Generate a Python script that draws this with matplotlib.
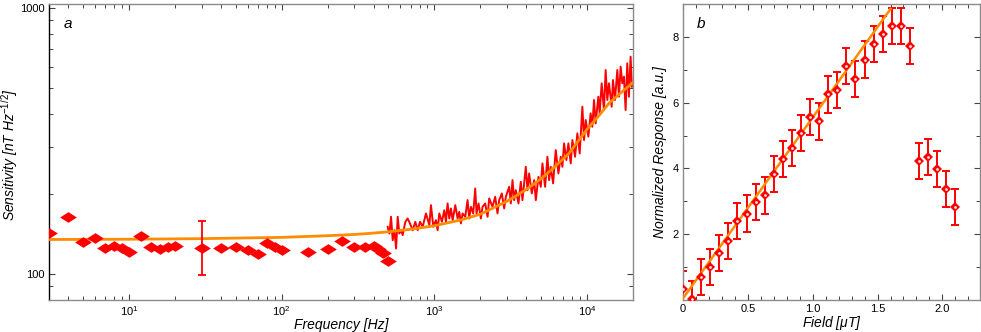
import matplotlib
matplotlib.use("Agg")
import matplotlib.pyplot as plt
from matplotlib.ticker import LogLocator, NullFormatter, FixedLocator, MultipleLocator, FixedFormatter
import numpy as np

plt.rcParams['font.family'] = ['Liberation Sans', 'DejaVu Sans']
plt.rcParams['mathtext.fontset'] = 'custom'
plt.rcParams['mathtext.rm'] = 'Liberation Sans'
plt.rcParams['mathtext.it'] = 'Liberation Sans:italic'

# ---------------- panel a data ----------------
diamond_freq = [3, 4, 5, 6, 7, 8, 9, 10, 12, 14, 16, 18, 20, 30, 40, 50, 60, 70, 80, 90,
                100, 150, 200, 250, 300, 350, 400, 425, 460, 500]
diamond_sens = [143, 164, 132, 137, 125, 128, 125, 121, 139, 127, 124, 127, 128, 125, 125,
                127, 123, 119, 131, 127, 123, 121, 124, 133, 127, 126, 128, 124, 120, 112]
err_freq = [30]
err_sens = [125]
err_low = [26]
err_high = [33]

trace_freq = [495, 508, 521, 534, 548, 562, 576, 590, 606, 621, 646, 669, 693, 722, 751, 778,
              806, 839, 882, 928, 951, 985, 1025, 1051, 1078, 1122, 1162, 1192, 1222, 1253,
              1285, 1318, 1372, 1421, 1457, 1494, 1532, 1594, 1651, 1693, 1736, 1798, 1853,
              1891, 1949, 2018, 2070, 2154, 2232, 2288, 2405, 2504, 2593, 2659, 2768, 2867,
              2940, 3091, 3170, 3251, 3333, 3417, 3558, 3684, 3778, 3972, 4074, 4178, 4349,
              4505, 4619, 4808, 4980, 5105, 5315, 5504, 5644, 5787, 5995, 6240, 6495, 6728,
              6899, 7074, 7325, 7551, 7820, 8018, 8346, 8645, 8954, 9322, 9559, 9802, 10200,
              10560, 10830, 11110, 11390, 11860, 12100, 12470, 12910, 13240, 13580, 13920,
              14500, 14790, 15240, 15790, 16190, 16600, 17020, 17450, 17890, 18340, 18810,
              19290, 19680]
trace_sens = [150.7, 142.2, 164.3, 134.2, 146.3, 124.9, 164.3, 142.2, 146.3, 140.2, 157.3,
              161.9, 155.1, 146.3, 157.3, 146.3, 157.3, 150.7, 169.1, 152.9, 181.7, 150.7,
              159.6, 146.3, 169.1, 157.3, 174.0, 157.3, 184.4, 161.9, 176.6, 159.6, 181.7,
              161.9, 171.5, 155.1, 169.1, 164.3, 189.8, 161.9, 179.1, 169.1, 209.9, 169.1,
              184.4, 161.9, 179.1, 184.4, 164.3, 192.6, 179.1, 195.4, 169.1, 189.8, 201.1,
              176.6, 195.4, 212.9, 184.4, 225.6, 189.8, 206.9, 184.4, 222.4, 189.8, 253.2,
              206.9, 239.0, 201.1, 225.6, 189.8, 232.2, 212.9, 260.7, 212.9, 276.1, 225.6,
              253.2, 219.3, 292.6, 239.0, 276.1, 253.2, 310.0, 268.3, 310.0, 260.7, 319.0,
              276.1, 338.0, 284.2, 425.7, 319.0, 379.3, 328.4, 401.8, 358.0, 451.0, 368.5,
              464.2, 401.8, 521.2, 413.6, 584.8, 451.0, 521.2, 425.7, 536.3, 451.0, 584.8,
              464.2, 601.9, 521.2, 552.1, 413.6, 619.4, 464.2, 656.3, 506.2]

fit_freq = [3, 10, 30, 100, 200, 300, 400, 500, 700, 1000, 1500, 2000, 3000, 4000, 5000,
            6000, 7600, 10000, 12000, 14000, 17000, 20000]
fit_sens = [135, 135.3, 136, 137.5, 139.5, 141, 142.7, 144.3, 147.5, 152, 160, 168, 188,
            208, 228, 250, 284, 350, 395, 440, 485, 525]

# ---------------- panel b data ----------------
field = [0.00, 0.07, 0.14, 0.21, 0.28, 0.35, 0.42, 0.49, 0.56, 0.63, 0.70, 0.77, 0.84, 0.91,
         0.98, 1.05, 1.12, 1.19, 1.26, 1.33, 1.40, 1.47, 1.54, 1.61, 1.68, 1.75, 1.82, 1.89,
         1.96, 2.03, 2.10]
response = [0.32, 0.02, 0.71, 1.01, 1.42, 1.79, 2.41, 2.63, 2.99, 3.18, 3.82, 4.29, 4.63,
            5.07, 5.57, 5.43, 6.25, 6.38, 7.12, 6.72, 7.31, 7.78, 8.10, 8.33, 8.33, 7.73,
            4.22, 4.36, 3.98, 3.37, 2.82]
response_err = [0.55] * 31
fitb_field = [0.0, 1.6]
fitb_resp = [0.05, 8.85]

RED = '#ff0000'
ORANGE = '#ff8c00'
GREY = '#8a8a8a'

fig = plt.figure(figsize=(9.81, 3.32), dpi=100)
axa = fig.add_axes([49/981, 32/332, 584/981, 296/332])
axb = fig.add_axes([683/981, 32/332, 297/981, 296/332])

flat_diamond = [(-1, 0), (0, 0.64), (1, 0), (0, -0.64), (-1, 0)]

# panel a
axa.plot(trace_freq, trace_sens, color=RED, lw=1.4, zorder=2)
axa.plot(fit_freq, fit_sens, color=ORANGE, lw=2.0, zorder=3, solid_capstyle='round')
axa.errorbar(err_freq, err_sens, yerr=[err_low, err_high], fmt='none', ecolor=RED,
             elinewidth=1.3, capsize=3.2, capthick=1.3, zorder=4)
axa.plot(diamond_freq, diamond_sens, linestyle='none', marker=flat_diamond, markersize=12,
         color=RED, markeredgewidth=0, zorder=5)
axa.set_xscale('log')
axa.set_yscale('log')
axa.set_xlim(3, 20000)
axa.set_ylim(80, 1035)
axa.yaxis.set_major_locator(FixedLocator([100, 1000]))
axa.yaxis.set_major_formatter(FixedFormatter(['100', '1000']))
axa.yaxis.set_minor_locator(LogLocator(base=10, subs=np.arange(2, 10)))
axa.yaxis.set_minor_formatter(NullFormatter())
axa.xaxis.set_minor_locator(LogLocator(base=10, subs=np.arange(2, 10)))
axa.xaxis.set_minor_formatter(NullFormatter())
axa.set_xlabel('Frequency [Hz]', fontstyle='italic', fontsize=10, labelpad=0)
axa.set_ylabel('Sensitivity [nT Hz$^{-1/2}$]', fontstyle='italic', fontsize=10)
axa.yaxis.set_label_coords(-29/584, 0.49)
axa.text(0.025, 0.955, 'a', transform=axa.transAxes, fontstyle='italic', fontsize=11,
         va='top', ha='left')

# panel b
axb.errorbar(field, response, yerr=response_err, fmt='none', ecolor=RED, elinewidth=1.4,
             capsize=2.6, capthick=1.4, zorder=2)
axb.plot(fitb_field, fitb_resp, color=ORANGE, lw=1.8, zorder=3)
axb.plot(field, response, linestyle='none', marker='D', markersize=5.5,
         color=RED, markeredgewidth=0, zorder=4)
axb.plot(field, response, linestyle='none', marker='o', markersize=2.0,
         color='#ffe8e8', markeredgewidth=0, zorder=5)
axb.set_xlim(0, 2.29)
axb.set_ylim(0, 9)
axb.xaxis.set_major_locator(FixedLocator([0, 0.5, 1.0, 1.5, 2.0]))
axb.xaxis.set_major_formatter(FixedFormatter(['0', '0.5', '1.0', '1.5', '2.0']))
axb.xaxis.set_minor_locator(MultipleLocator(0.1))
axb.yaxis.set_major_locator(FixedLocator([2, 4, 6, 8]))
axb.yaxis.set_minor_locator(MultipleLocator(1))
axb.set_xlabel('Field [$\\mu$T]', fontstyle='italic', fontsize=10, labelpad=0)
axb.set_ylabel('Normalized Response [a.u.]', fontstyle='italic', fontsize=10, labelpad=4)
axb.text(0.045, 0.955, 'b', transform=axb.transAxes, fontstyle='italic', fontsize=11,
         va='top', ha='left')

for ax in (axa, axb):
    ax.tick_params(which='both', direction='in', top=True, right=True, labelsize=8,
                   colors='black', pad=3)
    ax.tick_params(which='major', length=4.5, width=0.8, color='#444444')
    ax.tick_params(which='minor', length=3, width=0.7, color='#444444')
    for s in ('top', 'right', 'bottom', 'left'):
        ax.spines[s].set_color(GREY)
        ax.spines[s].set_linewidth(1.0)
axa.spines['left'].set_color('black')

fig.savefig('out.png', dpi=100)
